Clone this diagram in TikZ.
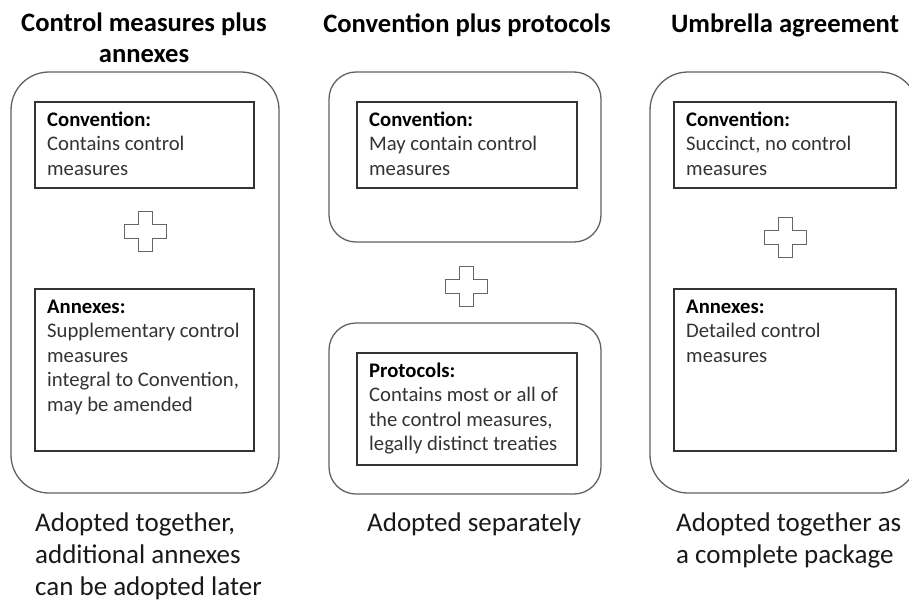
\documentclass[tikz,border=0pt]{standalone}
\usepackage{fontspec}
\setmainfont{Carlito}
\begin{document}
\begin{tikzpicture}[x=1pt,y=-1pt,
  outerbox/.style={draw=black!62, line width=1.3pt, rounded corners=38pt, inner sep=0pt, outer sep=0pt},
  midbox/.style={outerbox, rounded corners=27pt},
  innerbox/.style={draw=black!80, line width=1.2pt, inner sep=0pt, outer sep=0pt},
  plussign/.style={draw=black!60, line width=1pt},
  body/.style={anchor=north west, align=left, inner sep=0pt, font=\fontsize{20.7}{24.5}\selectfont, text=black!80},
  titletext/.style={anchor=base, inner sep=0pt, font=\bfseries\fontsize{26.6}{31}\selectfont, text=black},
  captiontext/.style={anchor=north west, align=left, inner sep=0pt, font=\fontsize{27}{32}\selectfont, text=black!90},
  plusmark/.pic={\draw[plussign] (-7,-20) -- (7,-20) -- (7,-7) -- (21,-7) -- (21,7) -- (7,7) -- (7,20) -- (-7,20) -- (-7,7) -- (-21,7) -- (-21,-7) -- (-7,-7) -- cycle;}
]
\useasboundingbox (0,0) rectangle (909,602);

% titles
\node[titletext] (t1a) at (144,32) {Control measures plus};
\node[titletext] (t1b) at (144,63) {annexes};
\node[titletext] (t2) at (467,33) {Convention plus protocols};
\node[titletext] (t3) at (785,33) {Umbrella agreement};

% outer boxes
\node[outerbox, minimum width=268pt, minimum height=421pt] (Lout) at (145,282.5) {};
\node[midbox, minimum width=272pt, minimum height=170pt] (Mtop) at (465,157) {};
\node[midbox, minimum width=272pt, minimum height=171pt] (Mbot) at (465,408.5) {};
\node[outerbox, minimum width=268pt, minimum height=421pt] (Rout) at (784,282.5) {};

% inner boxes
\node[innerbox, minimum width=219pt, minimum height=86pt] (Lconv) at (144.5,145) {};
\node[innerbox, minimum width=219pt, minimum height=162pt] (Lann) at (144.5,370) {};
\node[innerbox, minimum width=220pt, minimum height=86pt] (Mconv) at (467,145) {};
\node[innerbox, minimum width=220pt, minimum height=112pt] (Mprot) at (467,409) {};
\node[innerbox, minimum width=222pt, minimum height=86pt] (Rconv) at (785,145) {};
\node[innerbox, minimum width=222pt, minimum height=162pt] (Rann) at (785,370) {};

% plus signs
\pic at (145,231) {plusmark};
\pic at (466,286) {plusmark};
\pic at (785,237) {plusmark};

% body texts (first baseline 24pt below the box top; strut height 0.7*24.5)
\node[body] (Lconvt) at ([shift={(12,6.85)}]Lconv.north west) {\strut\textbf{\color{black}Convention:}\\Contains control\\measures};
\node[body] (Lannt) at ([shift={(12,6.85)}]Lann.north west) {\strut\textbf{\color{black}Annexes:}\\Supplementary control\\measures\\integral to Convention,\\may be amended};
\node[body] (Mconvt) at ([shift={(12,6.85)}]Mconv.north west) {\strut\textbf{\color{black}Convention:}\\May contain control\\measures};
\node[body] (Mprott) at ([shift={(12,6.85)}]Mprot.north west) {\strut\textbf{\color{black}Protocols:}\\Contains most or all of\\the control measures,\\legally distinct treaties};
\node[body] (Rconvt) at ([shift={(12,6.85)}]Rconv.north west) {\strut\textbf{\color{black}Convention:}\\Succinct, no control\\measures};
\node[body] (Rannt) at ([shift={(12,6.85)}]Rann.north west) {\strut\textbf{\color{black}Annexes:}\\Detailed control\\measures};

% captions (first baseline at 531.5; strut height 0.7*32)
\node[captiontext] (c1) at (35,509.1) {\strut Adopted together,\\additional annexes\\can be adopted later};
\node[captiontext] (c2) at (367,509.1) {\strut Adopted separately};
\node[captiontext] (c3) at (676,509.1) {\strut Adopted together as\\a complete package};
\end{tikzpicture}
\end{document}
